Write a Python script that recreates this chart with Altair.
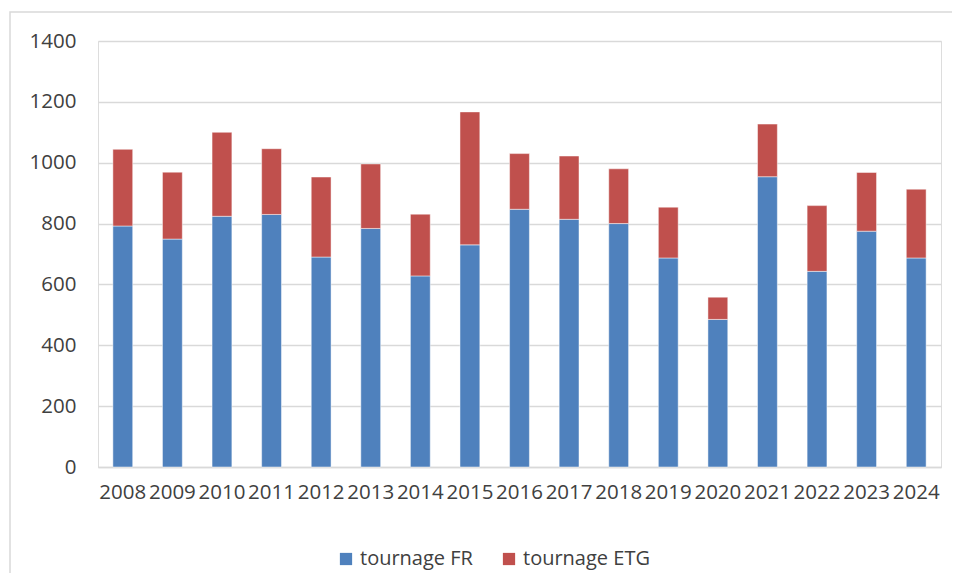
import altair as alt
import pandas as pd

years = [str(y) for y in range(2008, 2025)]
fr_values = [792, 749, 824, 830, 690, 784, 628, 730, 847, 814, 800, 687, 485, 954, 643, 775, 687]
total_values = [1044, 969, 1100, 1046, 953, 996, 831, 1167, 1030, 1022, 980, 854, 558, 1127, 859, 968, 913]
etg_values = [t - f for t, f in zip(total_values, fr_values)]

series = ["tournage FR", "tournage ETG"]
colors = ["#4F81BD", "#C0504D"]
y_ticks = [0, 200, 400, 600, 800, 1000, 1200, 1400]

rows = []
for i, yr in enumerate(years):
    rows.append({"year": yr, "series": series[0], "value": fr_values[i], "idx": 0})
    rows.append({"year": yr, "series": series[1], "value": etg_values[i], "idx": 1})
df = pd.DataFrame(rows)

FONT = "Open Sans"
TXT = "#404040"

bars = alt.Chart(df).mark_bar(stroke="#ffffff", strokeWidth=0.8, strokeOpacity=0.6).encode(
    x=alt.X("year:N", sort=years, title=None,
            scale=alt.Scale(paddingInner=0.6, paddingOuter=0.3),
            axis=alt.Axis(labelAngle=0, ticks=False, domain=True, domainColor="#d9d9d9",
                          domainWidth=1.5, labelFont=FONT, labelFontSize=20.5,
                          labelColor=TXT, labelPadding=15, labelOverlap=False)),
    y=alt.Y("value:Q", stack="zero", title=None,
            scale=alt.Scale(domain=[0, 1400], nice=False),
            axis=alt.Axis(values=y_ticks, format="d", ticks=False, domain=False, grid=True,
                          gridColor="#d9d9d9", gridWidth=1.5, labelFont=FONT,
                          labelFontSize=20.5, labelColor=TXT, labelPadding=22)),
    color=alt.Color("series:N", sort=series,
                    scale=alt.Scale(domain=series, range=colors),
                    legend=alt.Legend(title=None, orient="none", legendX=238, legendY=508,
                                      direction="horizontal", symbolType="square",
                                      symbolSize=150, symbolStrokeWidth=0,
                                      labelFont=FONT, labelFontSize=20, labelColor=TXT,
                                      columnPadding=26, labelOffset=4)),
    order=alt.Order("idx:Q", sort="ascending"),
)

frame = alt.Chart(pd.DataFrame({"a": [0]})).mark_rect(
    fill="transparent", stroke="#d9d9d9", strokeWidth=1.5
).encode(
    x=alt.value(-88), x2=alt.value(900), y=alt.value(-29), y2=alt.value(640)
)

chart = alt.layer(frame, bars).properties(
    width=843, height=426,
    autosize=alt.AutoSizeParams(type="none"),
    padding={"left": 90, "top": 33, "right": 11, "bottom": 106},
).configure_view(stroke=None).configure(background="white")

chart.save("out.html", embed_options={"renderer": "svg", "actions": False})
